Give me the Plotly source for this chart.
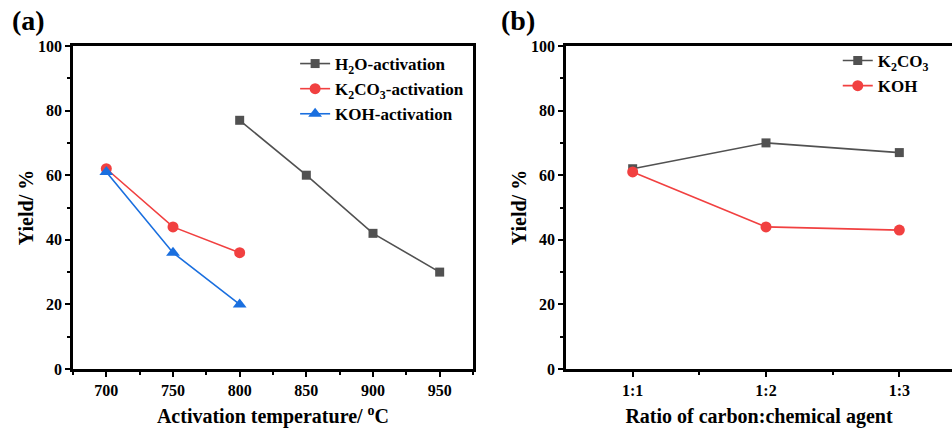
import plotly.graph_objects as go

# Panel (a) data
temp_h2o = [800, 850, 900, 950]
yield_h2o = [77, 60, 42, 30]
temp_k2co3 = [700, 750, 800]
yield_k2co3 = [62, 44, 36]
temp_koh = [700, 750, 800]
yield_koh = [61, 36, 20]

# Panel (b) data
ratio_pos = [1, 2, 3]
ratio_labels = ["1:1", "1:2", "1:3"]
yield_b_k2co3 = [62, 70, 67]
yield_b_koh = [61, 44, 43]

GRAY = "#515151"
RED = "#F14040"
BLUE = "#1A6FDF"
FONT = "Liberation Serif"

fig = go.Figure()

def add(x, y, name, color, symbol, size, xa, ya, legend):
    fig.add_trace(go.Scatter(
        x=x, y=y, name=name, mode="lines+markers",
        line=dict(color=color, width=1.6),
        marker=dict(color=color, symbol=symbol, size=size),
        xaxis=xa, yaxis=ya, legend=legend))

add(temp_h2o, yield_h2o, "<b>H<sub>2</sub>O-activation</b>", GRAY, "square", 9, "x", "y", "legend")
add(temp_k2co3, yield_k2co3, "<b>K<sub>2</sub>CO<sub>3</sub>-activation</b>", RED, "circle", 11, "x", "y", "legend")
add(temp_koh, yield_koh, "<b>KOH-activation</b>", BLUE, "triangle-up", 12, "x", "y", "legend")
add(ratio_pos, yield_b_k2co3, "<b>K<sub>2</sub>CO<sub>3</sub></b>", GRAY, "square", 9, "x2", "y2", "legend2")
add(ratio_pos, yield_b_koh, "<b>KOH</b>", RED, "circle", 11, "x2", "y2", "legend2")

W, H = 952, 428
ybot = (H - 369) / H
ytop = (H - 46) / H

tickfont = dict(family=FONT, size=16, color="black", weight="bold")
titlefont = dict(family=FONT, size=20, color="black", weight="bold")

common_axis = dict(showline=True, linecolor="black", linewidth=2.5, ticks="outside",
                   ticklen=5, tickwidth=2, tickcolor="black", showgrid=False,
                   zeroline=False, tickfont=tickfont, automargin=False)

fig.update_layout(
    width=W, height=H,
    margin=dict(l=0, r=0, t=0, b=0),
    plot_bgcolor="white", paper_bgcolor="white",
    font=dict(family=FONT, color="black"),
    xaxis=dict(domain=[73 / W, 473 / W], range=[675, 975], tickvals=[700, 750, 800, 850, 900, 950],
               mirror=True, anchor="y",
               minor=dict(ticks="outside", ticklen=3, tickwidth=2, tickcolor="black", dtick=25, tick0=700),
               title=dict(text="<b>Activation temperature/ <sup>o</sup>C</b>", font=titlefont, standoff=16),
               **common_axis),
    yaxis=dict(domain=[ybot, ytop], range=[0, 100], dtick=20, mirror=True, anchor="x",
               minor=dict(ticks="outside", ticklen=3, tickwidth=2, tickcolor="black", dtick=10),
               title=dict(text="<b>Yield/ %</b>", font=titlefont, standoff=0),
               **common_axis),
    xaxis2=dict(domain=[566 / W, 1.0], range=[0.5, 0.5 + (952 - 566) / 133.33],
                tickvals=ratio_pos, ticktext=ratio_labels, mirror=True, anchor="y2",
                minor=dict(ticks="outside", ticklen=3, tickwidth=2, tickcolor="black", tickvals=[1.5, 2.5]),
                title=dict(text="<b>Ratio of carbon:chemical agent</b>", font=titlefont, standoff=16),
                **common_axis),
    yaxis2=dict(domain=[ybot, ytop], range=[0, 100], dtick=20, mirror=False, anchor="x2",
                minor=dict(ticks="outside", ticklen=3, tickwidth=2, tickcolor="black", dtick=10),
                title=dict(text="<b>Yield/ %</b>", font=titlefont, standoff=0),
                **common_axis),
    legend=dict(x=0.31, y=0.8925, xanchor="left", yanchor="top", bgcolor="rgba(0,0,0,0)",
                font=dict(family=FONT, size=17, color="black"), tracegroupgap=0, itemwidth=30),
    legend2=dict(x=0.88, y=0.8995, xanchor="left", yanchor="top", bgcolor="rgba(0,0,0,0)",
                 font=dict(family=FONT, size=17, color="black"), tracegroupgap=0, itemwidth=30),
    showlegend=True,
)

fig.add_annotation(text="<b>(a)</b>", x=10 / W, y=(H - 20) / H, xref="paper", yref="paper",
                   xanchor="left", yanchor="middle", showarrow=False,
                   font=dict(family=FONT, size=28, color="black"))
fig.add_annotation(text="<b>(b)</b>", x=499 / W, y=(H - 20) / H, xref="paper", yref="paper",
                   xanchor="left", yanchor="middle", showarrow=False,
                   font=dict(family=FONT, size=28, color="black"))

fig.write_html("out.html")
